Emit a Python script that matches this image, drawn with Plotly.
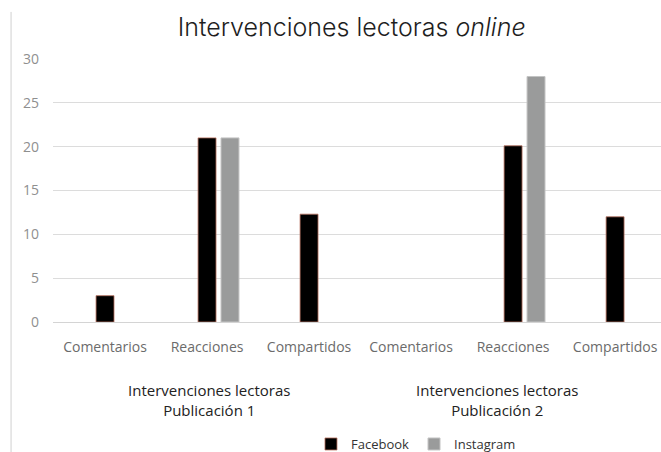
import plotly.graph_objects as go

categories = ["Comentarios", "Reacciones", "Compartidos", "Comentarios", "Reacciones", "Compartidos"]
groups = ["Intervenciones lectoras<br>Publicación 1", "Intervenciones lectoras<br>Publicación 2"]
facebook = [3, 21, 12.3, None, 20.1, 12]
instagram = [None, 21, None, None, 28, None]
y_ticks = [0, 5, 10, 15, 20, 25, 30]

xpos = list(range(len(categories)))
bw = 0.176

fig = go.Figure()
fig.add_trace(go.Bar(
    x=xpos, y=facebook, name="Facebook", width=bw, offset=-bw / 2,
    marker=dict(color="#000000", line=dict(color="#b8705e", width=0.8)),
))
fig.add_trace(go.Bar(
    x=xpos, y=instagram, name="Instagram", width=bw, offset=-bw / 2 + 0.225,
    marker=dict(color="#9a9b9b", line=dict(color="#c4c4c4", width=1)),
))

annotations = []
for gi, g in enumerate(groups):
    annotations.append(dict(
        x=[1.02, 3.84][gi], xref="x", y=-0.295, yref="paper", text=g,
        showarrow=False, xanchor="center", yanchor="middle",
        font=dict(family="Open Sans", size=15, color="#222222"),
    ))

fig.update_layout(
    width=661, height=452,
    margin=dict(l=53, r=0, t=59, b=130, autoexpand=False),
    paper_bgcolor="white", plot_bgcolor="white",
    barmode="overlay",
    title=dict(
        text="Intervenciones lectoras <i>online</i>",
        x=0.532, xref="container", xanchor="center", y=0.94, yref="container", yanchor="middle",
        font=dict(family="Inter", size=25, color="#1e1e1e", weight=300),
    ),
    xaxis=dict(
        range=[-0.51, 5.45], tickvals=xpos, ticktext=categories,
        showgrid=False, zeroline=False, showline=False, ticks="",
        ticklabelstandoff=15,
        tickfont=dict(family="Open Sans", size=14, color="#6b6b6b"),
        automargin=False, fixedrange=True,
    ),
    yaxis=dict(
        range=[0, 30], tickvals=y_ticks, showgrid=True, gridcolor="#dcdcdc",
        gridwidth=1, zeroline=True, zerolinecolor="#d4d4d4", zerolinewidth=1,
        ticks="", ticklabelstandoff=13, automargin=False,
        tickfont=dict(family="Open Sans", size=14, color="#8f8f8f"),
    ),
    legend=dict(
        orientation="h", x=0.597, xanchor="center", y=-0.464, yanchor="middle",
        font=dict(family="Open Sans", size=13, color="#333333"),
        itemwidth=30, bgcolor="rgba(0,0,0,0)",
    ),
    annotations=annotations,
    shapes=[dict(type="line", xref="paper", yref="paper",
                 x0=-0.069, x1=-0.069, y0=1.179, y1=-0.5,
                 line=dict(color="#d0d0d0", width=1))],
)

fig.write_html("out.html", config={"displayModeBar": False},
               post_script="document.body.style.margin='0';document.body.style.overflow='hidden';")
